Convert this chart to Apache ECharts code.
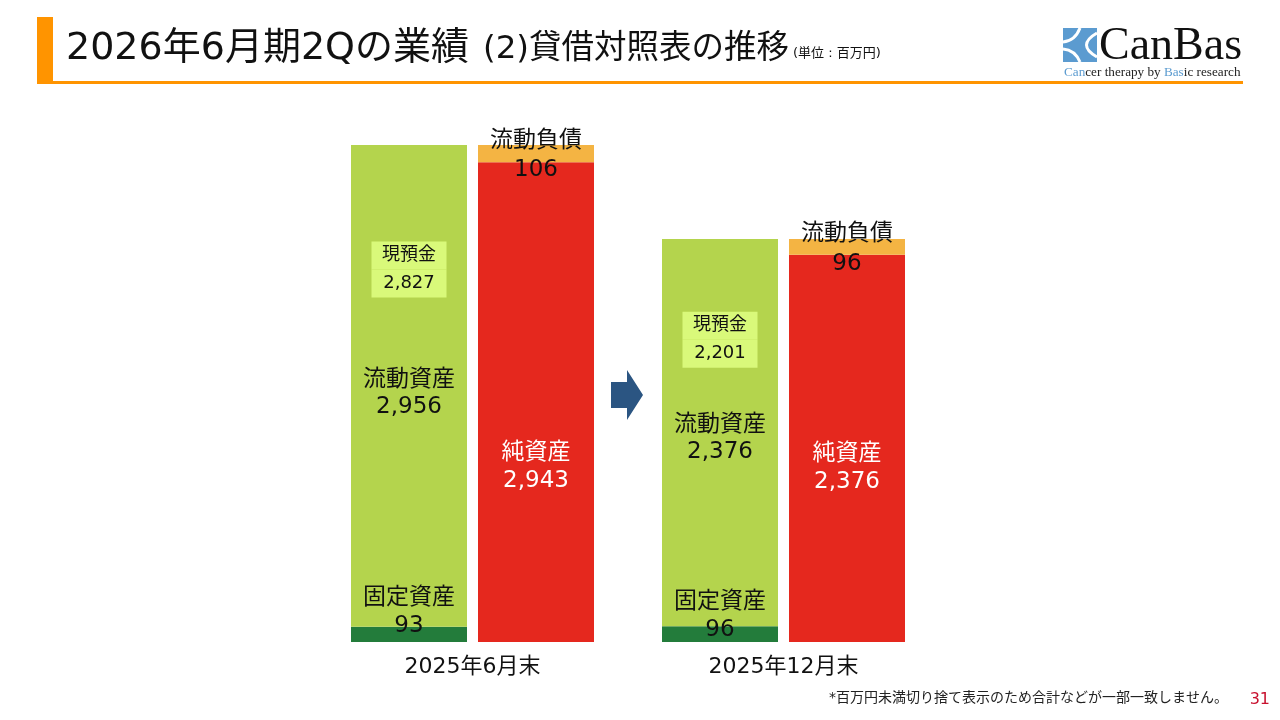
<!DOCTYPE html>
<html>
<head>
<meta charset="utf-8">
<script src="https://cdn.jsdelivr.net/npm/echarts@6/dist/echarts.min.js"></script>
<style>
  html, body { margin: 0; padding: 0; background: #fff; }
  #main { width: 1280px; height: 720px; }
</style>
</head>
<body>
<div id="main"></div>
<script>
var chartDom = document.getElementById('main');
var myChart = echarts.init(chartDom);

// 単位：百万円
const periods = ['2025年6月末', '2025年12月末'];
const sides = ['資産', '負債・純資産'];
const fixedAssets = [93, 96];
const currentAssets = [2956, 2376];
const cashDeposits = [2827, 2201];
const netAssets = [2943, 2376];
const currentLiabilities = [106, 96];

const FONT = '"DejaVu Sans", "Noto Sans CJK JP", sans-serif';
const SERIF = '"Liberation Serif", "DejaVu Serif", serif';
const fmt = v => v.toLocaleString('en-US');
const yMax = Math.max(fixedAssets[0] + currentAssets[0], netAssets[0] + currentLiabilities[0]);

// ラベル位置の微調整（期ごと）
const cashGap = [69, 44];
const currentOffset = [-55, -44];
const netOffset = [65, 20];
const fixedOffset = [-22, -18];

let grids = [], xAxes = [], yAxes = [], series = [];
periods.forEach(function (p, i) {
    grids.push({ left: 345.5 + i * 311, width: 254, top: 145, height: 497 });
    xAxes.push({
        type: 'category', gridIndex: i, data: sides,
        axisLine: { show: false }, axisTick: { show: false }, axisLabel: { show: false },
        name: p, nameLocation: 'middle', nameGap: 14,
        nameTextStyle: { fontSize: 22, color: '#111', fontFamily: FONT }
    });
    yAxes.push({
        type: 'value', gridIndex: i, min: 0, max: yMax, show: false,
        splitLine: { show: false }
    });
    const common = { type: 'bar', xAxisIndex: i, yAxisIndex: i, stack: 'bs' + i, barWidth: 116, silent: true };
    series.push(Object.assign({}, common, {
        name: '固定資産',
        itemStyle: { color: '#237c3b' },
        data: [{
            value: fixedAssets[i],
            label: {
                show: true, position: 'inside', offset: [0, fixedOffset[i]],
                formatter: '固定資産\n' + fmt(fixedAssets[i]),
                fontSize: 23, lineHeight: 28, color: '#111', fontFamily: FONT
            }
        }, '-']
    }));
    series.push(Object.assign({}, common, {
        name: '流動資産',
        itemStyle: { color: '#b4d44d' },
        data: [{
            value: currentAssets[i],
            label: {
                show: true, position: 'inside', offset: [0, currentOffset[i]],
                formatter: '{box|現預金}\n{box|' + fmt(cashDeposits[i]) + '}\n{gap| }\n{t|流動資産}\n{t|' + fmt(currentAssets[i]) + '}',
                fontFamily: FONT,
                rich: {
                    box: { width: 75, height: 28, lineHeight: 28, align: 'center', fontSize: 18,
                        color: '#111', backgroundColor: '#d9f97a', fontFamily: FONT },
                    gap: { height: cashGap[i], lineHeight: cashGap[i], fontSize: 10 },
                    t: { fontSize: 23, lineHeight: 27, color: '#111', fontFamily: FONT }
                }
            }
        }, '-']
    }));
    series.push(Object.assign({}, common, {
        name: '純資産',
        itemStyle: { color: '#e5281e' },
        data: ['-', {
            value: netAssets[i],
            label: {
                show: true, position: 'inside', offset: [0, netOffset[i]],
                formatter: '純資産\n' + fmt(netAssets[i]),
                fontSize: 23, lineHeight: 28, color: '#fff', fontFamily: FONT
            }
        }]
    }));
    series.push(Object.assign({}, common, {
        name: '流動負債',
        itemStyle: { color: '#f4b443' },
        data: ['-', {
            value: currentLiabilities[i],
            label: {
                show: true, position: 'inside', offset: [0, 2],
                formatter: '流動負債\n' + fmt(currentLiabilities[i]),
                fontSize: 23, lineHeight: 29.5, color: '#111', fontFamily: FONT
            }
        }]
    }));
});

let option = {
    backgroundColor: '#fff',
    animation: false,
    textStyle: { fontFamily: FONT },
    grid: grids,
    xAxis: xAxes,
    yAxis: yAxes,
    series: series,
    graphic: [
        // 見出し
        { type: 'rect', shape: { x: 37, y: 17, width: 16, height: 66 }, style: { fill: '#ff9400' } },
        { type: 'rect', shape: { x: 37, y: 81, width: 1206, height: 3 }, style: { fill: '#ff9400' } },
        { type: 'text', style: { x: 66, y: 49, verticalAlign: 'middle', text: '2026年6月期2Qの業績',
            fontSize: 38, fill: '#111', fontFamily: FONT } },
        { type: 'text', style: { x: 483, y: 50, verticalAlign: 'middle', text: '(2)貸借対照表の推移',
            fontSize: 32.5, fill: '#111', fontFamily: FONT } },
        { type: 'text', style: { x: 793, y: 54, verticalAlign: 'middle', text: '(単位 : 百万円)',
            fontSize: 13, fill: '#111', fontFamily: FONT } },
        // ロゴ
        { type: 'rect', shape: { x: 1063, y: 28, width: 34, height: 34 }, style: { fill: '#5b9bd0' } },
        { type: 'bezierCurve', shape: { x1: 1080, y1: 28, cpx1: 1075, cpy1: 41, x2: 1063, y2: 42 },
          style: { stroke: '#fff', lineWidth: 3, fill: null } },
        { type: 'bezierCurve', shape: { x1: 1063, y1: 49, cpx1: 1075, cpy1: 50, x2: 1080, y2: 62 },
          style: { stroke: '#fff', lineWidth: 3, fill: null } },
        { type: 'bezierCurve', shape: { x1: 1097, y1: 33, cpx1: 1076, cpy1: 45, x2: 1097, y2: 57 },
          style: { stroke: '#fff', lineWidth: 3, fill: null } },
        { type: 'text', left: 1099, top: 24,
          style: { text: 'CanBas', fontSize: 46, fontFamily: SERIF, fill: '#111' } },
        { type: 'text', left: 1064, top: 66,
          style: {
              text: '{b|Can}cer therapy by {b|Bas}ic research',
              fontSize: 13.2, fontFamily: SERIF, fill: '#222',
              rich: { b: { fill: '#5b9bd0', fontSize: 13.2, fontFamily: SERIF } }
          } },
        // 矢印
        { type: 'polygon',
          shape: { points: [[611, 382], [627, 382], [627, 370], [643, 395], [627, 420], [627, 408], [611, 408]] },
          style: { fill: '#2b5582' } },
        // 注記
        { type: 'text', right: 52, top: 691,
          style: { text: '*百万円未満切り捨て表示のため合計などが一部一致しません。', fontSize: 14, fill: '#222', fontFamily: FONT } },
        { type: 'text', right: 10, top: 692,
          style: { text: '31', fontSize: 16, fill: '#c8102e', fontFamily: FONT } }
    ]
};

option && myChart.setOption(option);
</script>
</body>
</html>
